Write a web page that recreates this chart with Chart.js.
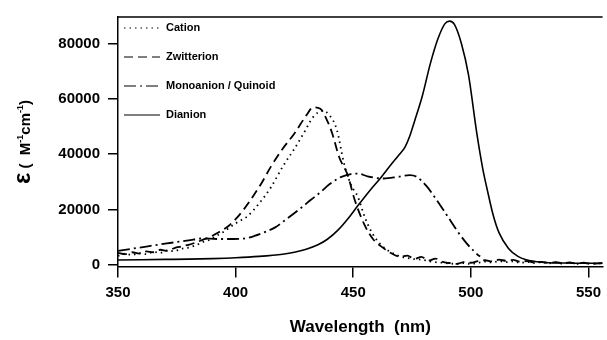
<!DOCTYPE html>
<html>
<head>
<meta charset="utf-8">
<script src="https://cdn.jsdelivr.net/npm/chart.js@4"></script>
<style>
  html, body { margin: 0; padding: 0; background: #fff; }
  #wrap { width: 607px; height: 340px; position: relative; }
</style>
</head>
<body>
<div id="wrap"><canvas id="spectra"></canvas></div>
<script>
// values (wavelength in nm, epsilon in M^-1 cm^-1)
const seriesNames = ['Cation', 'Zwitterion', 'Monoanion / Quinoid', 'Dianion'];

const cationWl = [350, 353, 356, 359, 362, 365, 368, 371, 374, 377, 380, 383, 386, 389, 392, 395, 398, 401, 405, 410, 415, 420, 425, 429, 433, 437, 440, 443, 446, 449, 452, 455, 458, 462, 466, 470, 473, 476, 479, 482, 485, 488, 491, 494, 497, 500, 503, 506, 509, 512, 515, 518, 521, 524, 527, 530, 533, 536, 539, 542, 545, 548, 551, 556];
const cationEps = [3200, 4000, 3500, 4200, 3800, 4600, 4300, 5200, 4900, 5800, 6200, 7000, 8200, 9000, 10500, 12000, 13800, 15500, 17500, 22200, 28000, 35500, 42000, 47700, 53500, 55800, 54000, 49000, 37000, 29000, 24500, 17000, 11500, 7000, 4500, 3000, 2400, 2000, 1800, 1300, 900, 700, 400, 300, 600, 300, 700, 1100, 800, 1300, 900, 1200, 700, 1000, 600, 900, 500, 800, 400, 700, 300, 600, 400, 500];

const zwitterWl = [350, 353, 356, 359, 362, 365, 368, 371, 374, 377, 380, 383, 386, 389, 393, 397, 400, 403, 406, 411, 415, 420, 425, 430, 433, 436, 439, 441, 444, 447.7, 450.5, 454.8, 458.3, 463, 466, 470, 473, 476, 479, 482, 485, 488, 491, 494, 497, 500, 503, 506, 509, 512, 515, 518, 521, 524, 527, 530, 533, 536, 539, 542, 545, 548, 551, 556];
const zwitterEps = [4300, 3800, 4500, 4000, 4800, 4500, 5400, 5000, 6000, 6600, 7200, 8000, 9000, 10000, 11800, 14000, 16500, 19500, 23000, 29500, 35500, 42000, 47500, 54000, 57000, 56500, 52000, 47700, 39000, 32300, 23800, 14400, 9400, 5900, 4200, 2900, 3300, 2100, 2800, 1500, 2200, 1000, 600, 300, 900, 700, 1300, 1600, 1200, 1800, 1400, 1700, 1100, 1300, 800, 1000, 600, 900, 500, 800, 400, 700, 300, 600];

const monoWl = [350, 360, 370, 380, 386, 392, 399, 403, 408, 413, 417, 421, 427, 432, 436, 440, 445, 449, 452, 456, 463, 469, 474, 477, 481, 485, 488.5, 491.3, 494, 498.3, 501, 503, 504];
const monoEps = [5000, 6300, 7600, 8800, 9500, 9300, 9300, 9400, 10400, 12000, 13600, 16100, 20000, 23500, 26200, 29200, 31800, 32800, 33000, 32000, 31200, 31800, 32400, 31800, 28600, 24000, 19600, 16000, 12500, 7600, 5200, 3500, 3000];

const dianionWl = [350, 360, 370, 380, 390, 400, 410, 420, 425, 430, 435, 439, 443.5, 448, 452, 457, 461.8, 466, 469.5, 472, 474, 476, 479.3, 482.8, 486, 489, 491, 493, 496, 499, 502.5, 505, 507, 509.5, 512, 516, 520, 523.5, 530, 540, 556];
const dianionEps = [1700, 1800, 1900, 2000, 2200, 2500, 3000, 3800, 4500, 5600, 7200, 9200, 12500, 16900, 21400, 26800, 31600, 36200, 39800, 42600, 46500, 51800, 60900, 72900, 81800, 87300, 88200, 87000, 80000, 68700, 47700, 35000, 27000, 17900, 11500, 5900, 3000, 1800, 900, 600, 500];

const xTicks = [350, 400, 450, 500, 550];
const yTicks = [0, 20000, 40000, 60000, 80000];

const pts = (xs, ys) => xs.map((x, i) => ({ x: x, y: ys[i] }));

const dashes = [[1.5, 4], [9, 5], [12, 4, 2, 4], []];
const seriesData = [
  pts(cationWl, cationEps),
  pts(zwitterWl, zwitterEps),
  pts(monoWl, monoEps),
  pts(dianionWl, dianionEps)
];

const FONT = '"Liberation Sans", Arial, sans-serif';

// legend sits inside the plot, top left, without a box
const insideLegend = {
  id: 'insideLegend',
  afterDatasetsDraw(chart) {
    const ctx = chart.ctx;
    const a = chart.chartArea;
    ctx.save();
    chart.data.datasets.forEach((ds, i) => {
      const y = a.top + 11 + i * 29;
      ctx.strokeStyle = '#000';
      ctx.lineWidth = 1.2;
      ctx.setLineDash(ds.borderDash);
      ctx.beginPath();
      ctx.moveTo(a.left + 6, y);
      ctx.lineTo(a.left + 42, y);
      ctx.stroke();
      ctx.setLineDash([]);
      ctx.fillStyle = '#000';
      ctx.font = 'bold 11px ' + FONT;
      ctx.textBaseline = 'middle';
      ctx.fillText(ds.label, a.left + 48, y);
    });
    // frame line along the top
    ctx.lineWidth = 1.5;
    ctx.beginPath();
    ctx.moveTo(a.left, a.top);
    ctx.lineTo(a.right, a.top);
    ctx.stroke();
    ctx.restore();
  }
};

// y title: large epsilon plus unit with superscripts
const yTitle = {
  id: 'yTitle',
  afterDraw(chart) {
    const ctx = chart.ctx;
    ctx.save();
    ctx.translate(24, 142);
    ctx.rotate(-Math.PI / 2);
    ctx.fillStyle = '#000';
    ctx.textBaseline = 'alphabetic';
    const parts = [
      ['ε', 'bold 24px ' + FONT, 0],
      [' (  M', 'bold 15px ' + FONT, 0],
      ['-1', 'bold 9px ' + FONT, -7],
      ['cm', 'bold 15px ' + FONT, 0],
      ['-1', 'bold 9px ' + FONT, -7],
      [')', 'bold 15px ' + FONT, 0]
    ];
    let total = 0;
    parts.forEach(p => { ctx.font = p[1]; total += ctx.measureText(p[0]).width; });
    let x = -total / 2;
    parts.forEach(p => {
      ctx.font = p[1];
      ctx.fillText(p[0], x, 6 + p[2]);
      x += ctx.measureText(p[0]).width;
    });
    ctx.restore();
  }
};

new Chart(document.getElementById('spectra'), {
  type: 'line',
  data: {
    datasets: seriesData.map((d, i) => ({
      label: seriesNames[i],
      data: d,
      borderColor: '#000',
      borderWidth: i === 3 ? 1.6 : 1.8,
      borderDash: dashes[i],
      pointRadius: 0,
      fill: false,
      cubicInterpolationMode: 'monotone'
    }))
  },
  options: {
    responsive: true,
    maintainAspectRatio: false,
    animation: false,
    layout: { padding: { left: 0, right: 0, top: 13, bottom: 0 } },
    plugins: {
      legend: { display: false },
      tooltip: { enabled: false }
    },
    scales: {
      x: {
        type: 'linear',
        min: 350,
        max: 556,
        afterBuildTicks: s => { s.ticks = xTicks.map(v => ({ value: v })); },
        grid: { drawOnChartArea: false, color: '#000', tickLength: 11, lineWidth: 1.5 },
        border: { color: '#000', width: 1.5 },
        ticks: { color: '#000', font: { family: FONT, size: 15, weight: 'bold' }, padding: 6, maxRotation: 0, callback: v => String(v) },
        title: {
          display: true,
          text: 'Wavelength  (nm)',
          color: '#000',
          font: { family: FONT, size: 17, weight: 'bold' },
          padding: { top: 10, bottom: 2 }
        }
      },
      y: {
        min: -700,
        max: 89700,
        afterBuildTicks: s => { s.ticks = yTicks.map(v => ({ value: v })); },
        afterFit: s => { s.width = 118; },
        grid: { drawOnChartArea: false, color: '#000', tickLength: 10, lineWidth: 1.5 },
        border: { color: '#000', width: 1.5 },
        ticks: { color: '#000', font: { family: FONT, size: 15, weight: 'bold' }, padding: 8, callback: v => String(v) }
      }
    }
  },
  plugins: [insideLegend, yTitle]
});
</script>
</body>
</html>
